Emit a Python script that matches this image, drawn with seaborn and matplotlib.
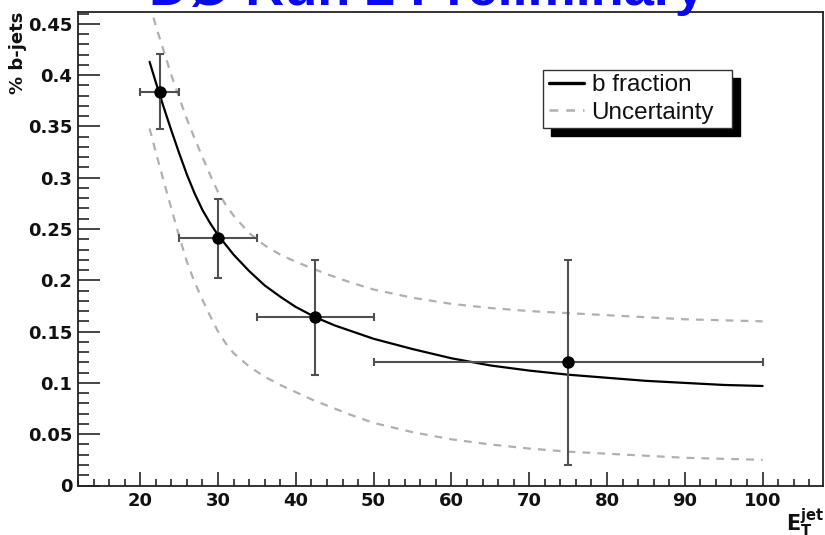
import matplotlib
matplotlib.use("Agg")
import matplotlib.pyplot as plt
import seaborn as sns
import pandas as pd
from matplotlib.patches import Rectangle
from matplotlib.lines import Line2D

from matplotlib.ticker import MultipleLocator

# Measured b-jet fractions in E_T^jet bins
et_center = [22.5, 30.0, 42.5, 75.0]
et_low = [20.0, 25.0, 35.0, 50.0]
et_high = [25.0, 35.0, 50.0, 100.0]
bfrac = [0.384, 0.241, 0.164, 0.120]
bfrac_low = [0.347, 0.202, 0.108, 0.020]
bfrac_high = [0.421, 0.279, 0.220, 0.220]

# Fitted b fraction curve
fit_et = [21.2, 22, 23, 24, 25, 26, 27, 28, 29, 30, 32, 34, 36, 38, 40, 42.5,
          45, 50, 55, 60, 65, 70, 75, 80, 85, 90, 95, 100]
fit_b = [0.413, 0.393, 0.369, 0.346, 0.324, 0.303, 0.2845, 0.2685, 0.2555,
         0.244, 0.225, 0.209, 0.195, 0.184, 0.174, 0.164, 0.156, 0.143, 0.133,
         0.124, 0.117, 0.112, 0.108, 0.105, 0.102, 0.100, 0.098, 0.097]

# Uncertainty band edges
unc_et = [21.2, 22, 23, 24, 25, 26, 27, 28, 29, 30, 31, 32, 34, 36, 38, 40,
          42, 44, 47, 50, 55, 60, 65, 70, 75, 80, 85, 90, 95, 100]
unc_up = [0.470, 0.448, 0.424, 0.400, 0.378, 0.357, 0.338, 0.320, 0.3025,
          0.286, 0.2735, 0.263, 0.246, 0.234, 0.225, 0.218, 0.212, 0.206,
          0.198, 0.191, 0.183, 0.177, 0.173, 0.170, 0.168, 0.166, 0.164,
          0.162, 0.161, 0.160]
unc_dn = [0.348, 0.325, 0.297, 0.270, 0.243, 0.218, 0.198, 0.181, 0.165,
          0.150, 0.1385, 0.129, 0.116, 0.106, 0.098, 0.091, 0.084, 0.078,
          0.069, 0.061, 0.052, 0.045, 0.040, 0.036, 0.033, 0.031, 0.029,
          0.027, 0.026, 0.025]

sns.set_style("ticks")
plt.rcParams["font.family"] = ["Liberation Sans", "DejaVu Sans"]
plt.rcParams["mathtext.fontset"] = "custom"
plt.rcParams["mathtext.rm"] = "DejaVu Sans"
plt.rcParams["mathtext.bf"] = "DejaVu Sans:bold"

W, H = 825, 535
fig = plt.figure(figsize=(W / 100, H / 100), dpi=100)
fig.patch.set_facecolor("white")
ax = fig.add_axes([78 / W, 1 - 485.5 / H, (822.5 - 78) / W, (485.5 - 12) / H])

fit_df = pd.DataFrame({"et": fit_et, "b": fit_b})
unc_df = pd.DataFrame({"et": unc_et, "up": unc_up, "dn": unc_dn})
pts_df = pd.DataFrame({"et": et_center, "b": bfrac})

dash = (0, (3.5, 3.2))
sns.lineplot(data=unc_df, x="et", y="up", ax=ax, color="#b0b0b0", lw=1.6,
             linestyle=dash, estimator=None, sort=False)
sns.lineplot(data=unc_df, x="et", y="dn", ax=ax, color="#b0b0b0", lw=1.6,
             linestyle=dash, estimator=None, sort=False)
sns.lineplot(data=fit_df, x="et", y="b", ax=ax, color="black", lw=1.6,
             estimator=None, sort=False)

xerr = [[c - lo for c, lo in zip(et_center, et_low)],
        [hi - c for c, hi in zip(et_center, et_high)]]
yerr = [[b - lo for b, lo in zip(bfrac, bfrac_low)],
        [hi - b for b, hi in zip(bfrac, bfrac_high)]]
ax.errorbar(et_center, bfrac, xerr=xerr, yerr=yerr, fmt="none",
            ecolor="#505050", elinewidth=1.5, capsize=3, capthick=1.5, zorder=3)
sns.scatterplot(data=pts_df, x="et", y="b", ax=ax, color="black", s=80,
                edgecolor="black", linewidth=0, zorder=4)

ax.set_xlim(12.0, 107.7)
ax.set_ylim(0, 0.4615)
ax.xaxis.set_minor_locator(MultipleLocator(2))
ax.yaxis.set_minor_locator(MultipleLocator(0.01))
xt = [20, 30, 40, 50, 60, 70, 80, 90, 100]
ax.set_xticks(xt)
ax.set_xticklabels([str(v) for v in xt])
yt = [0, 0.05, 0.1, 0.15, 0.2, 0.25, 0.3, 0.35, 0.4, 0.45]
ax.set_yticks(yt)
ax.set_yticklabels(["0", "0.05", "0.1", "0.15", "0.2", "0.25", "0.3", "0.35", "0.4", "0.45"])

ax.tick_params(axis="x", which="major", direction="in", length=10, width=1.2,
               pad=5.0)
ax.tick_params(axis="x", which="minor", direction="in", length=5, width=1.2)
ax.tick_params(axis="y", which="major", direction="in", length=16, width=1.2,
               pad=4.0)
ax.tick_params(axis="y", which="minor", direction="in", length=8, width=1.2)
for lab in ax.get_xticklabels() + ax.get_yticklabels():
    lab.set_fontfamily("DejaVu Sans")
    lab.set_fontweight("bold")
    lab.set_fontsize(13)
    lab.set_color("#111111")
for sp in ax.spines.values():
    sp.set_visible(True)
    sp.set_linewidth(1.3)
    sp.set_color("#222222")
ax.set_xlabel("")
ax.set_ylabel("")

fig.text(18 / W, 1 - 12 / H, "% b-jets", rotation=90, ha="center", va="top",
         fontsize=13, fontweight="bold", family="DejaVu Sans", color="#111111")
fig.text(824 / W, 1 - 531 / H, r"$\mathbf{E}_{\mathbf{T}}^{\mathbf{jet}}$",
         ha="right", va="baseline", fontsize=15, color="#111111")

fig.text(427 / W, 1 - 5 / H, "DØ Run 2 Preliminary", ha="center",
         va="baseline", fontsize=39, fontweight="bold", color="#0a0af0")

# legend box with drop shadow
bx0, by0, bx1, by1 = 543, 70, 732, 128
fig.add_artist(Rectangle(((bx0 + 8) / W, 1 - (by1 + 8) / H), (bx1 - bx0) / W,
                         (by1 - by0) / H, transform=fig.transFigure,
                         facecolor="black", edgecolor="black", zorder=5))
fig.add_artist(Rectangle((bx0 / W, 1 - by1 / H), (bx1 - bx0) / W,
                         (by1 - by0) / H, transform=fig.transFigure,
                         facecolor="white", edgecolor="#333333", lw=1.0, zorder=6))
handles = [Line2D([], [], color="black", lw=2.4),
           Line2D([], [], color="#b0b0b0", lw=1.8, linestyle=dash)]
leg = fig.legend(handles, ["b fraction", "Uncertainty"], loc="center left",
                 bbox_to_anchor=((bx0 + 6) / W, 1 - (by0 + by1) / 2 / H),
                 frameon=False, fontsize=17.5, handlelength=1.45,
                 handletextpad=0.3, labelspacing=0.22, borderpad=0,
                 borderaxespad=0)
for t in leg.get_texts():
    t.set_color("#111111")
leg.set_zorder(7)

fig.savefig("out.png", dpi=100)
